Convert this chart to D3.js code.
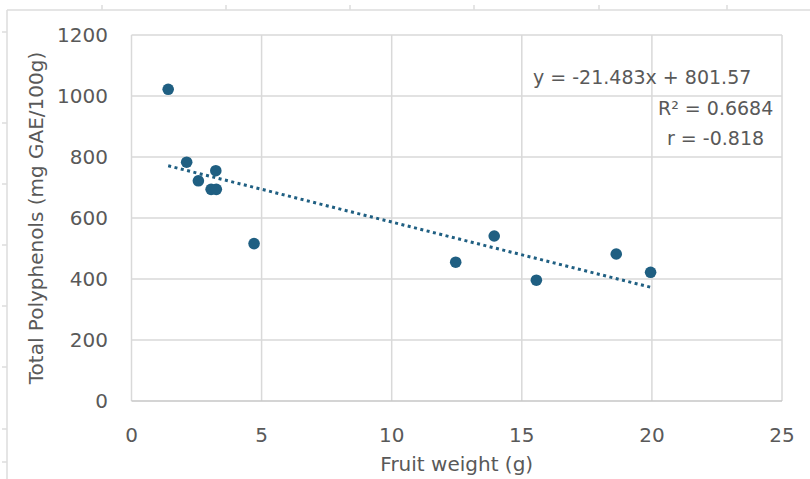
<!DOCTYPE html>
<html>
<head>
<meta charset="utf-8">
<script src="https://cdn.jsdelivr.net/npm/d3@7"></script>
<style>
  html, body { margin: 0; padding: 0; background: #fff; }
  svg { display: block; font-family: "DejaVu Sans", sans-serif; }
</style>
</head>
<body>
<svg id="chart" width="810" height="479"></svg>
<script>
// Fruit weight (g) vs total polyphenols (mg GAE/100g)
const fruitWeight = [1.41, 2.12, 2.57, 3.24, 3.06, 3.26, 4.71, 12.46, 13.94, 15.56, 18.63, 19.95];
const polyphenols = [1022, 783, 722, 755, 694, 694, 516, 455, 541, 396, 482, 422];

const xTicks = [0, 5, 10, 15, 20, 25];
const yTicks = [0, 200, 400, 600, 800, 1000, 1200];

// trendline shown on the chart
const slope = -21.483;
const intercept = 801.57;
const rSquared = '0.6684';
const rValue = '-0.818';

const xTitle = 'Fruit weight (g)';
const yTitle = 'Total Polyphenols (mg GAE/100g)';

const sheetColTicks = [102, 226, 350, 474, 599, 727];
const sheetRowTicks = [32, 123, 184, 245, 306, 367, 429, 462];

const dotColor = '#1f5f82';
const textColor = '#595959';
const gridColor = '#d9d9d9';

const svg = d3.select('#chart');
const x = d3.scaleLinear().domain([0, 25]).range([131.5, 782]);
const y = d3.scaleLinear().domain([0, 1200]).range([401, 35]);

// faint spreadsheet frame behind the chart
const frame = svg.append('g').attr('stroke', '#dcdcdc').attr('stroke-width', 1.5);
frame.append('line').attr('x1', 7).attr('x2', 810).attr('y1', 10).attr('y2', 10);
frame.append('line').attr('x1', 7).attr('x2', 7).attr('y1', 10).attr('y2', 479);
frame.selectAll('.ct').data(sheetColTicks).join('line')
  .attr('x1', d => d).attr('x2', d => d).attr('y1', 5).attr('y2', 10);
frame.selectAll('.rt').data(sheetRowTicks).join('line')
  .attr('x1', 2).attr('x2', 7).attr('y1', d => d).attr('y2', d => d);

// gridlines
const grid = svg.append('g').attr('stroke', gridColor).attr('stroke-width', 1.5);
grid.selectAll('.gx').data(xTicks).join('line')
  .attr('x1', d => x(d)).attr('x2', d => x(d)).attr('y1', y(0)).attr('y2', y(1200));
grid.selectAll('.gy').data(yTicks.slice(1)).join('line')
  .attr('x1', x(0)).attr('x2', x(25)).attr('y1', d => y(d)).attr('y2', d => y(d));

// bottom axis line
svg.append('line')
  .attr('x1', x(0)).attr('x2', x(25)).attr('y1', y(0)).attr('y2', y(0))
  .attr('stroke', '#c6c6c6').attr('stroke-width', 1.5);

// tick labels
svg.append('g').selectAll('text').data(xTicks).join('text')
  .attr('x', d => x(d)).attr('y', 435)
  .attr('text-anchor', 'middle').attr('dominant-baseline', 'central')
  .attr('font-size', 20).attr('fill', textColor)
  .text(d => d);

svg.append('g').selectAll('text').data(yTicks).join('text')
  .attr('x', 108).attr('y', d => y(d))
  .attr('text-anchor', 'end').attr('dominant-baseline', 'central')
  .attr('font-size', 20).attr('fill', textColor)
  .text(d => d);

// axis titles
svg.append('text')
  .attr('x', (x(0) + x(25)) / 2).attr('y', 464)
  .attr('text-anchor', 'middle').attr('dominant-baseline', 'central')
  .attr('font-size', 20).attr('fill', textColor)
  .text(xTitle);

svg.append('text')
  .attr('transform', `translate(36,${(y(0) + y(1200)) / 2}) rotate(-90)`)
  .attr('text-anchor', 'middle').attr('dominant-baseline', 'central')
  .attr('font-size', 20).attr('fill', textColor)
  .text(yTitle);

// dotted linear trendline over the data range
const [xMin, xMax] = d3.extent(fruitWeight);
svg.append('line')
  .attr('x1', x(xMin)).attr('y1', y(slope * xMin + intercept))
  .attr('x2', x(xMax)).attr('y2', y(slope * xMax + intercept))
  .attr('stroke', dotColor).attr('stroke-width', 3)
  .attr('stroke-dasharray', '3,3.5');

// points
svg.append('g').selectAll('circle').data(fruitWeight).join('circle')
  .attr('cx', d => x(d))
  .attr('cy', (d, i) => y(polyphenols[i]))
  .attr('r', 5.8)
  .attr('fill', dotColor);

// equation label
const eqLines = [
  { text: `y = ${slope}x + ${intercept}`, x: 533, y: 77 },
  { text: `R² = ${rSquared}`, x: 658, y: 108 },
  { text: `r = ${rValue}`, x: 667, y: 138 }
];
svg.append('g').selectAll('text').data(eqLines).join('text')
  .attr('x', d => d.x).attr('y', d => d.y)
  .attr('dominant-baseline', 'central')
  .attr('font-size', 19).attr('fill', textColor)
  .text(d => d.text);
</script>
</body>
</html>
